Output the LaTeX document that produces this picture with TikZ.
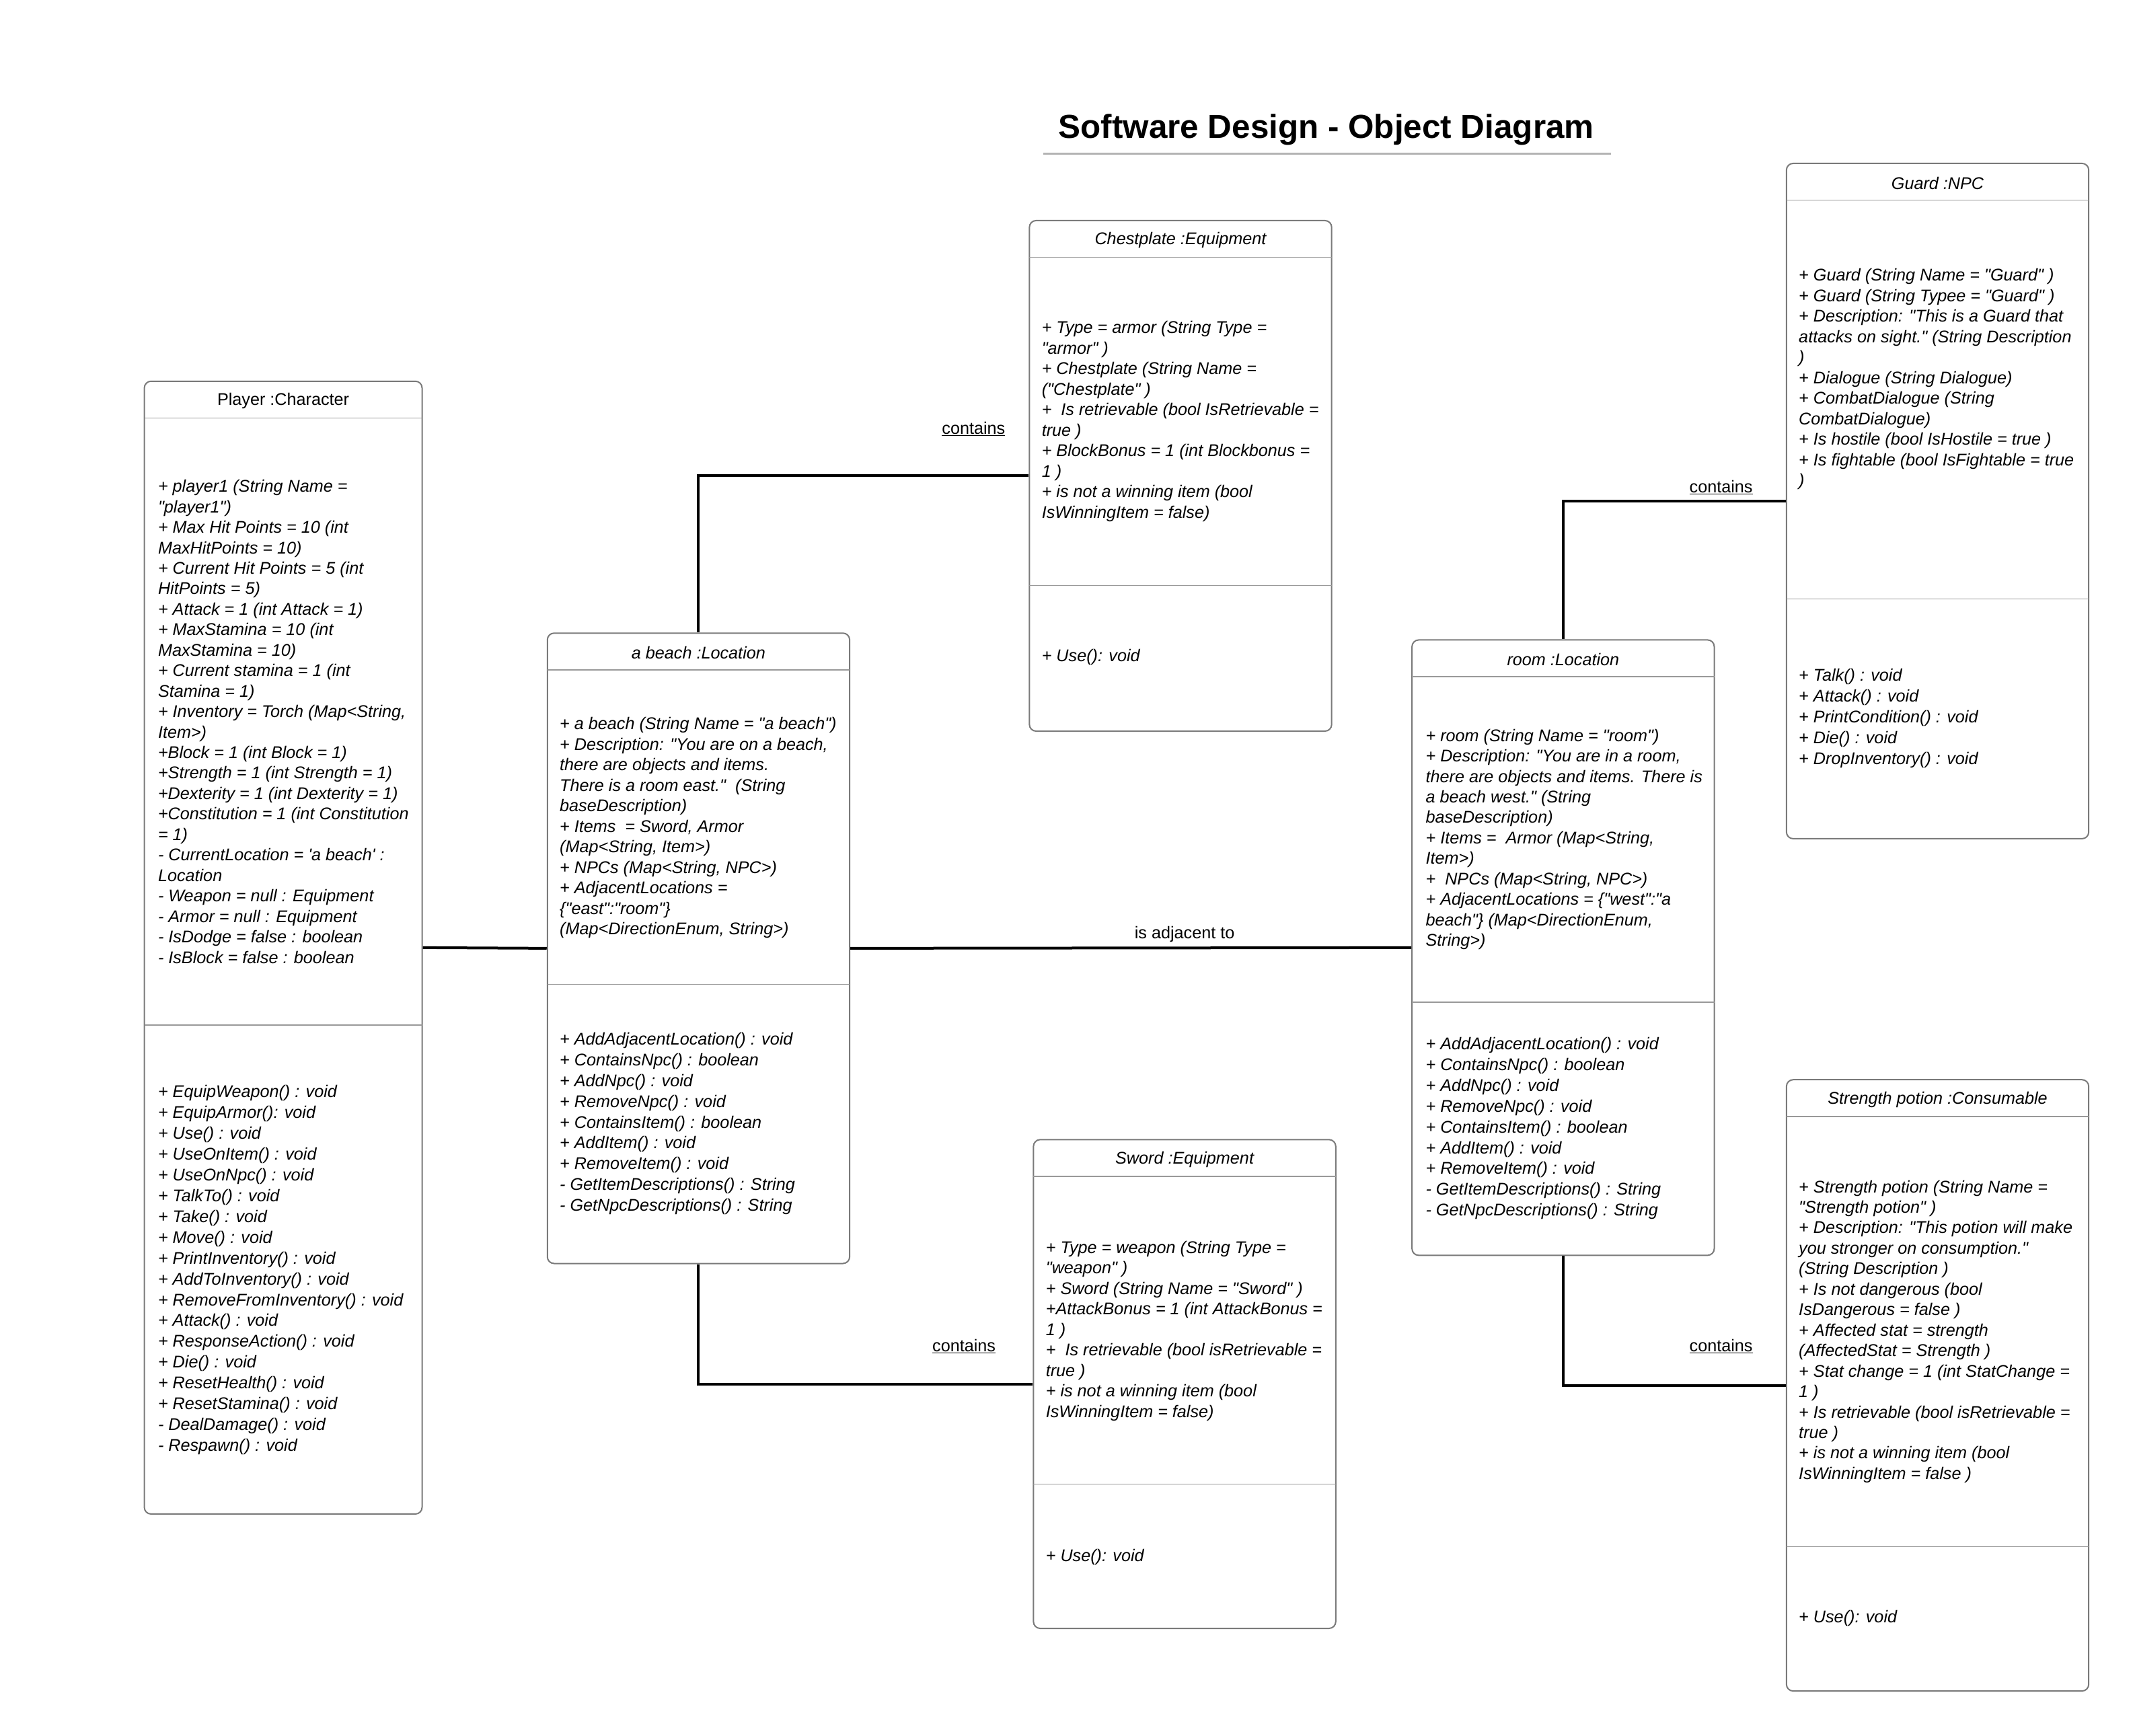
\documentclass[tikz,border=0pt]{standalone}
\usepackage{fontspec}
\setmainfont{Liberation Sans}[Ligatures=TeXOff]
\usetikzlibrary{fit}
\definecolor{boxgray}{HTML}{7A7A7A}
\definecolor{divgray}{HTML}{999999}
\definecolor{titlegray}{HTML}{B3B3B3}
\tikzset{
 umlbox/.style={draw=boxgray, line width=2pt, fill=white, rounded corners=10pt, inner sep=0pt},
 divline/.style={draw=divgray, line width=1.6pt},
 hdr/.style={font=\fontsize{25.2}{30.45}\selectfont\itshape, inner sep=0pt, yshift=-2pt},
 hdrup/.style={font=\fontsize{25.2}{30.45}\selectfont, inner sep=0pt, yshift=-2pt},
 attr/.style={font=\fontsize{25.2}{30.45}\selectfont\itshape, align=left, anchor=west, inner sep=0pt, yshift=-3pt},
 meth/.style={font=\fontsize{25.2}{30.95}\selectfont\itshape, align=left, anchor=west, inner sep=0pt, yshift=-2.5pt},
 conn/.style={draw=black, line width=4pt},
 lbl/.style={font=\fontsize{25.2}{30.45}\selectfont, inner sep=0pt, yshift=-2pt},
}
\begin{document}
\begin{tikzpicture}[x=2.0242pt, y=-2.0242pt]
\useasboundingbox (0,0) rectangle (1568,1274.6);

% title
\node[font=\fontsize{49.4}{60}\selectfont\bfseries, inner sep=0pt] (title) at (974,95.5) {Software Design - Object Diagram};
\draw[titlegray, line width=3pt] (766,113) -- (1183,113);

% boxes
\node[umlbox, fit={(106,280) (310,1112)}] (player) {};
\node[umlbox, fit={(402,465) (624,928)}] (beach) {};
\node[umlbox, fit={(756,162) (978,537)}] (chest) {};
\node[umlbox, fit={(759,837) (981,1196)}] (sword) {};
\node[umlbox, fit={(1037,470) (1259,922)}] (room) {};
\node[umlbox, fit={(1312,120) (1534,616)}] (guard) {};
\node[umlbox, fit={(1312,793) (1534,1242)}] (potion) {};

% connectors
\draw[conn] (player.east) -- (beach.west);
\draw[conn] (beach.east) -- (room.west);
\draw[conn] (beach.north) |- (chest.west);
\draw[conn] (beach.south) |- (sword.west);
\draw[conn] (room.north) |- (guard.west);
\draw[conn] (room.south) |- (potion.west);

\node[lbl] (ladj) at (870,685) {is adjacent to};
\node[lbl] (lc1) at (715,314) {\underline{contains}};
\node[lbl] (lc2) at (708,988) {\underline{contains}};
\node[lbl] (lc3) at (1264,357) {\underline{contains}};
\node[lbl] (lc4) at (1264,988) {\underline{contains}};

% compartments
\draw[divline] (106,307) -- (310,307);
\draw[divline] (106,753) -- (310,753);
\draw[divline] (402,492) -- (624,492);
\draw[divline] (402,723) -- (624,723);
\draw[divline] (756,189) -- (978,189);
\draw[divline] (756,430) -- (978,430);
\draw[divline] (759,864) -- (981,864);
\draw[divline] (759,1090) -- (981,1090);
\draw[divline] (1037,497) -- (1259,497);
\draw[divline] (1037,736) -- (1259,736);
\draw[divline] (1312,147) -- (1534,147);
\draw[divline] (1312,440) -- (1534,440);
\draw[divline] (1312,820) -- (1534,820);
\draw[divline] (1312,1136) -- (1534,1136);

% headers
\node[hdrup] (playerT) at (208,293.5) {Player :Character};
\node[hdr] (beachT) at (513,478.5) {a beach :Location};
\node[hdr] (chestT) at (867,175.5) {Chestplate :Equipment};
\node[hdr] (swordT) at (870,850.5) {Sword :Equipment};
\node[hdr] (roomT) at (1148,483.5) {room :Location};
\node[hdr] (guardT) at (1423,133.5) {Guard :NPC};
\node[hdr] (potionT) at (1423,806.5) {Strength potion :Consumable};

% Player
\node[attr] (playerA) at (116,528.5) {+ player1 (String Name =\\
"player1")\\
+ Max Hit Points = 10 (int\\
MaxHitPoints = 10)\\
+ Current Hit Points = 5 (int\\
HitPoints = 5)\\
+ Attack = 1 (int Attack = 1)\\
+ MaxStamina = 10 (int\\
MaxStamina = 10)\\
+ Current stamina = 1 (int\\
Stamina = 1)\\
+ Inventory = Torch (Map<String,\\
Item>)\\
+Block = 1 (int Block = 1)\\
+Strength = 1 (int Strength = 1)\\
+Dexterity = 1 (int Dexterity = 1)\\
+Constitution = 1 (int Constitution\\
= 1)\\
- CurrentLocation = 'a beach' :\\
Location\\
- Weapon = null : Equipment\\
- Armor = null : Equipment\\
- IsDodge = false : boolean\\
- IsBlock = false : boolean};
\node[meth] (playerM) at (116,931.5) {+ EquipWeapon() : void\\
+ EquipArmor(): void\\
+ Use() : void\\
+ UseOnItem() : void\\
+ UseOnNpc() : void\\
+ TalkTo() : void\\
+ Take() : void\\
+ Move() : void\\
+ PrintInventory() : void\\
+ AddToInventory() : void\\
+ RemoveFromInventory() : void\\
+ Attack() : void\\
+ ResponseAction() : void\\
+ Die() : void\\
+ ResetHealth() : void\\
+ ResetStamina() : void\\
- DealDamage() : void\\
- Respawn() : void};

% beach
\node[attr] (beachA) at (411,606.5) {+ a beach (String Name = "a beach")\\
+ Description: "You are on a beach,\\
there are objects and items.\\
There is a room east."\ \ (String\\
baseDescription)\\
+ Items\ \ = Sword, Armor\\
(Map<String, Item>)\\
+ NPCs (Map<String, NPC>)\\
+ AdjacentLocations =\\
\{"east":"room"\}\\
(Map<DirectionEnum, String>)};
\node[meth] (beachM) at (411,824) {+ AddAdjacentLocation() : void\\
+ ContainsNpc() : boolean\\
+ AddNpc() : void\\
+ RemoveNpc() : void\\
+ ContainsItem() : boolean\\
+ AddItem() : void\\
+ RemoveItem() : void\\
- GetItemDescriptions() : String\\
- GetNpcDescriptions() : String};

% chestplate
\node[attr] (chestA) at (765,308) {+ Type = armor (String Type =\\
"armor" )\\
+ Chestplate (String Name =\\
("Chestplate" )\\
+\ \ Is retrievable (bool IsRetrievable =\\
true )\\
+ BlockBonus = 1 (int Blockbonus =\\
1 )\\
+ is not a winning item (bool\\
IsWinningItem = false)};
\node[meth] (chestM) at (765,481.5) {+ Use(): void};

% sword
\node[attr] (swordA) at (768,976) {+ Type = weapon (String Type =\\
"weapon" )\\
+ Sword (String Name = "Sword" )\\
+AttackBonus = 1 (int AttackBonus =\\
1 )\\
+\ \ Is retrievable (bool isRetrievable =\\
true )\\
+ is not a winning item (bool\\
IsWinningItem = false)};
\node[meth] (swordM) at (768,1142.5) {+ Use(): void};

% room
\node[attr] (roomA) at (1047,615) {+ room (String Name = "room")\\
+ Description: "You are in a room,\\
there are objects and items. There is\\
a beach west." (String\\
baseDescription)\\
+ Items =\ \ Armor (Map<String,\\
Item>)\\
+\ \ NPCs (Map<String, NPC>)\\
+ AdjacentLocations = \{"west":"a\\
beach"\} (Map<DirectionEnum,\\
String>)};
\node[meth] (roomM) at (1047,827.5) {+ AddAdjacentLocation() : void\\
+ ContainsNpc() : boolean\\
+ AddNpc() : void\\
+ RemoveNpc() : void\\
+ ContainsItem() : boolean\\
+ AddItem() : void\\
+ RemoveItem() : void\\
- GetItemDescriptions() : String\\
- GetNpcDescriptions() : String};

% guard
\node[attr] (guardA) at (1321,277) {+ Guard (String Name = "Guard" )\\
+ Guard (String Typee = "Guard" )\\
+ Description: "This is a Guard that\\
attacks on sight." (String Description\\
)\\
+ Dialogue (String Dialogue)\\
+ CombatDialogue (String\\
CombatDialogue)\\
+ Is hostile (bool IsHostile = true )\\
+ Is fightable (bool IsFightable = true\\
)};
\node[meth] (guardM) at (1321,526.5) {+ Talk() : void\\
+ Attack() : void\\
+ PrintCondition() : void\\
+ Die() : void\\
+ DropInventory() : void};

% potion
\node[attr] (potionA) at (1321,976.5) {+ Strength potion (String Name =\\
"Strength potion" )\\
+ Description: "This potion will make\\
you stronger on consumption."\\
(String Description )\\
+ Is not dangerous (bool\\
IsDangerous = false )\\
+ Affected stat = strength\\
(AffectedStat = Strength )\\
+ Stat change = 1 (int StatChange =\\
1 )\\
+ Is retrievable (bool isRetrievable =\\
true )\\
+ is not a winning item (bool\\
IsWinningItem = false )};
\node[meth] (potionM) at (1321,1187.5) {+ Use(): void};
\end{tikzpicture}
\end{document}
